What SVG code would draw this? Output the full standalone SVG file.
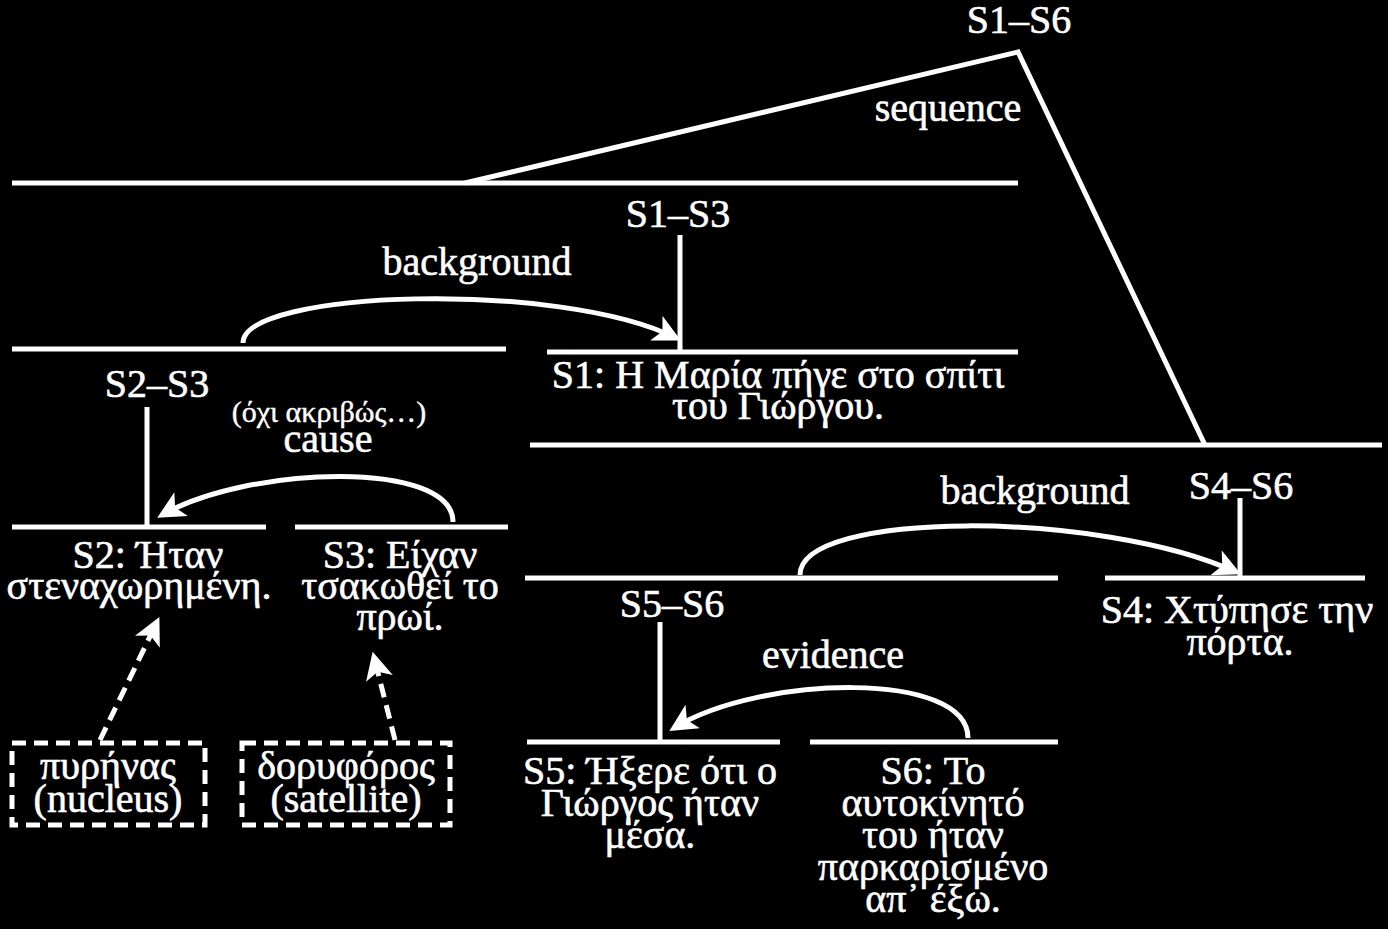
<svg xmlns="http://www.w3.org/2000/svg" width="1388" height="929" viewBox="0 0 1388 929">
<defs>
<style>
text{font-family:"Liberation Serif","DejaVu Serif",serif;fill:#fff;stroke:#fff;stroke-width:0.6;text-anchor:middle;font-size:40px}
.sm{font-size:30px;stroke-width:0.4}
.ln{stroke:#fff;stroke-width:5;fill:none}
.arc{stroke:#fff;stroke-width:5;fill:none;marker-end:url(#ah)}
.dash{stroke:#fff;stroke-width:5;fill:none;stroke-dasharray:14 8}
.darr{stroke:#fff;stroke-width:5;fill:none;stroke-dasharray:14 8;marker-end:url(#ah)}
</style>
<marker id="ah" viewBox="0 0 10 10" refX="8" refY="5" markerWidth="5.5" markerHeight="5.5" orient="auto" markerUnits="strokeWidth">
<path d="M0,0 L10,5 L0,10 L2.5,5 z" fill="#fff"/>
</marker>
</defs>
<rect width="1388" height="929" fill="#000"/>
<g id="connectors">
<path class="ln" d="M465,183 L1018,52 L1205,445"/>
<line class="ln" x1="680" y1="235" x2="680" y2="352"/>
<line class="ln" x1="147" y1="407" x2="147" y2="527"/>
<line class="ln" x1="1240" y1="498" x2="1240" y2="578"/>
<line class="ln" x1="660" y1="622" x2="660" y2="742"/>
<path class="arc" d="M243,343 C243,290 560,280 676,338"/>
<path class="arc" d="M453,522 C453,460 250,465 162,515"/>
<path class="arc" d="M800,575 C800,510 1100,510 1236,572"/>
<path class="arc" d="M968,738 C968,670 760,675 674,728"/>
<path class="darr" d="M100,740 L157,622"/>
<path class="darr" d="M395,740 L374,657"/>
</g>
<g id="n-s1s6">
<line class="ln" x1="12" y1="183" x2="1018" y2="183"/>
<text x="1019" y="33">S1–S6</text>
<text x="948" y="121">sequence</text>
</g>
<g id="n-s4s6">
<line class="ln" x1="530" y1="445" x2="1382" y2="445"/>
<text x="1241" y="499">S4–S6</text>
</g>
<g id="n-s1s3">
<text x="678" y="227">S1–S3</text>
<text x="477" y="275">background</text>
</g>
<g id="n-s2s3">
<line class="ln" x1="12" y1="349" x2="506" y2="349"/>
<text x="157" y="397">S2–S3</text>
<text x="329" y="422" class="sm">(όχι ακριβώς…)</text>
<text x="328" y="452">cause</text>
</g>
<g id="n-s1">
<line class="ln" x1="547" y1="352" x2="1018" y2="352"/>
<text x="778" y="388">S1: Η Μαρία πήγε στο σπίτι</text>
<text x="778" y="419">του Γιώργου.</text>
</g>
<g id="n-s2">
<line class="ln" x1="12" y1="527" x2="266" y2="527"/>
<text x="148" y="568">S2: Ήταν</text>
<text x="139" y="599">στεναχωρημένη.</text>
</g>
<g id="n-s3">
<line class="ln" x1="295" y1="527" x2="508" y2="527"/>
<text x="400" y="568">S3: Είχαν</text>
<text x="400" y="599">τσακωθεί το</text>
<text x="400" y="630">πρωί.</text>
</g>
<g id="n-nucleus">
<rect class="dash" x="12" y="743" width="193" height="82"/>
<text x="108" y="779">πυρήνας</text>
<text x="108" y="812">(nucleus)</text>
</g>
<g id="n-satellite">
<rect class="dash" x="242" y="743" width="208" height="82"/>
<text x="346" y="779">δορυφόρος</text>
<text x="346" y="812">(satellite)</text>
</g>
<g id="n-s5s6">
<line class="ln" x1="525" y1="578" x2="1058" y2="578"/>
<text x="672" y="617">S5–S6</text>
<text x="1035" y="504">background</text>
<text x="833" y="668">evidence</text>
</g>
<g id="n-s4">
<line class="ln" x1="1105" y1="578" x2="1365" y2="578"/>
<text x="1237" y="623">S4: Χτύπησε την</text>
<text x="1240" y="655">πόρτα.</text>
</g>
<g id="n-s5">
<line class="ln" x1="527" y1="742" x2="780" y2="742"/>
<text x="650" y="784">S5: Ήξερε ότι ο</text>
<text x="650" y="816">Γιώργος ήταν</text>
<text x="650" y="848">μέσα.</text>
</g>
<g id="n-s6">
<line class="ln" x1="810" y1="742" x2="1058" y2="742"/>
<text x="933" y="784">S6: Το</text>
<text x="933" y="816">αυτοκίνητό</text>
<text x="933" y="848">του ήταν</text>
<text x="933" y="880">παρκαρισμένο</text>
<text x="933" y="912">απ᾽ έξω.</text>
</g>
</svg>
